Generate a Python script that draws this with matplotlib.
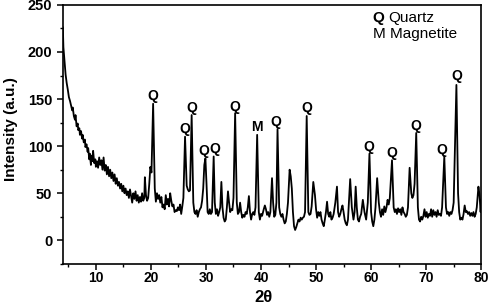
import matplotlib
matplotlib.use('Agg')
import matplotlib.pyplot as plt
from matplotlib.ticker import MultipleLocator

plt.rcParams['font.family'] = ['Liberation Sans', 'DejaVu Sans']

# XRD pattern (2-theta, intensity)
two_theta = [
    4.0, 4.1, 4.3, 4.5, 4.7, 4.9, 5.1, 5.3, 5.5, 5.7, 5.8, 6.0, 6.2, 6.3, 6.5, 6.7, 6.8, 7.0, 7.1, 7.3,
    7.5, 7.6, 7.8, 8.0, 8.1, 8.3, 8.5, 8.6, 8.8, 8.9, 9.1, 9.2, 9.4, 9.5, 9.7, 9.9, 10.0, 10.2, 10.4, 10.6,
    10.8, 11.0, 11.2, 11.4, 11.6, 11.8, 12.0, 12.2, 12.4, 12.6, 12.8, 13.0, 13.2, 13.4, 13.6, 13.8, 14.0, 14.2, 14.4, 14.6,
    14.8, 15.0, 15.2, 15.4, 15.6, 15.8, 16.0, 16.2, 16.4, 16.6, 16.8, 17.0, 17.2, 17.4, 17.6, 17.8, 18.0, 18.2, 18.4, 18.6,
    18.8, 18.9, 19.1, 19.3, 19.5, 19.7, 19.9, 20.1, 20.4, 20.7, 20.9, 21.1, 21.3, 21.5, 21.7, 21.9, 22.1, 22.3, 22.5, 22.7,
    22.9, 23.1, 23.3, 23.5, 23.7, 23.9, 24.1, 24.3, 24.5, 24.7, 24.9, 25.1, 25.3, 25.5, 25.7, 25.9, 26.2, 26.5, 26.7, 26.9,
    27.1, 27.4, 27.7, 27.9, 28.1, 28.3, 28.5, 28.7, 28.9, 29.1, 29.3, 29.5, 29.7, 29.9, 30.1, 30.3, 30.5, 30.7, 30.9, 31.1,
    31.4, 31.6, 31.8, 32.0, 32.2, 32.4, 32.6, 32.8, 33.0, 33.2, 33.4, 33.6, 33.8, 34.0, 34.2, 34.4, 34.6, 34.8, 35.0, 35.3,
    35.6, 35.8, 36.0, 36.2, 36.4, 36.6, 36.8, 37.0, 37.2, 37.4, 37.6, 37.8, 38.0, 38.2, 38.4, 38.6, 38.8, 39.0, 39.3, 39.6,
    39.8, 40.0, 40.2, 40.5, 40.7, 40.9, 41.1, 41.3, 41.5, 41.7, 42.0, 42.2, 42.4, 42.6, 42.8, 43.0, 43.3, 43.5, 43.7, 43.9,
    44.1, 44.3, 44.5, 44.7, 44.9, 45.2, 45.4, 45.6, 45.8, 46.0, 46.2, 46.4, 46.6, 46.8, 47.0, 47.2, 47.4, 47.6, 47.8, 48.0,
    48.3, 48.6, 48.8, 49.0, 49.2, 49.5, 49.8, 50.0, 50.2, 50.4, 50.6, 50.8, 51.0, 51.2, 51.4, 51.6, 51.8, 52.0, 52.2, 52.4,
    52.6, 52.8, 53.0, 53.2, 53.5, 53.8, 54.0, 54.2, 54.4, 54.6, 54.8, 55.0, 55.2, 55.4, 55.6, 55.8, 56.2, 56.5, 56.8, 57.0,
    57.2, 57.4, 57.6, 57.8, 58.0, 58.2, 58.5, 58.8, 59.1, 59.4, 59.7, 60.0, 60.2, 60.4, 60.6, 60.8, 61.1, 61.4, 61.6, 61.8,
    62.0, 62.2, 62.4, 62.6, 62.8, 63.0, 63.2, 63.4, 63.8, 64.1, 64.3, 64.5, 64.7, 64.9, 65.1, 65.3, 65.5, 65.7, 65.9, 66.1,
    66.3, 66.5, 66.7, 67.0, 67.3, 67.5, 67.7, 67.9, 68.2, 68.5, 68.7, 68.9, 69.1, 69.3, 69.5, 69.7, 69.9, 70.1, 70.3, 70.5,
    70.7, 70.9, 71.1, 71.3, 71.5, 71.7, 71.9, 72.1, 72.3, 72.5, 72.7, 72.9, 73.3, 73.6, 73.8, 74.0, 74.2, 74.4, 74.6, 74.8,
    75.0, 75.5, 75.8, 76.0, 76.2, 76.4, 76.6, 76.8, 77.0, 77.2, 77.4, 77.6, 77.8, 78.0, 78.2, 78.4, 78.6, 78.8, 79.0, 79.2,
    79.5, 79.7, 79.9, 80.0,
]
intensity = [
    226, 205, 190, 176, 167, 160, 152, 148, 143, 138, 141, 132, 128, 133, 121, 124, 117, 119, 112, 116,
    108, 112, 104, 107, 99, 102, 94, 98, 86, 92, 80, 90, 84, 95, 82, 86, 78, 84, 77, 88,
    80, 85, 75, 88, 74, 80, 70, 78, 68, 75, 66, 72, 63, 70, 60, 66, 58, 62, 55, 60,
    52, 58, 50, 55, 48, 52, 45, 54, 47, 40, 50, 44, 52, 42, 48, 40, 46, 41, 50, 42,
    45, 67, 48, 42, 45, 60, 78, 72, 145, 55, 41, 50, 44, 48, 40, 46, 35, 38, 33, 48,
    38, 44, 36, 50, 42, 36, 38, 30, 32, 31, 35, 32, 38, 28, 36, 45, 110, 58, 54, 52,
    53, 133, 40, 30, 28, 32, 25, 30, 33, 35, 42, 55, 80, 87, 60, 30, 28, 33, 28, 30,
    89, 40, 28, 33, 26, 30, 35, 62, 35, 24, 20, 22, 35, 52, 40, 30, 33, 32, 45, 135,
    40, 28, 30, 40, 30, 24, 27, 25, 30, 28, 35, 47, 30, 22, 28, 30, 27, 35, 112, 30,
    22, 28, 26, 33, 37, 33, 27, 30, 25, 30, 66, 40, 25, 27, 40, 118, 35, 28, 25, 28,
    22, 18, 20, 28, 40, 75, 68, 55, 30, 15, 11, 14, 18, 22, 20, 24, 22, 24, 25, 30,
    132, 30, 27, 28, 36, 62, 48, 33, 24, 30, 26, 30, 22, 18, 15, 22, 30, 41, 28, 25,
    30, 22, 24, 28, 40, 57, 30, 25, 28, 33, 37, 30, 22, 18, 16, 22, 65, 35, 22, 30,
    57, 35, 22, 20, 25, 28, 43, 30, 22, 40, 92, 30, 20, 15, 22, 35, 66, 40, 30, 25,
    33, 27, 36, 30, 35, 43, 38, 45, 85, 35, 30, 33, 28, 34, 30, 33, 27, 35, 30, 28,
    25, 27, 35, 77, 50, 45, 48, 60, 114, 35, 22, 20, 25, 22, 26, 33, 25, 30, 24, 28,
    26, 33, 25, 32, 27, 30, 25, 32, 27, 28, 26, 35, 89, 35, 28, 30, 26, 30, 28, 32,
    40, 165, 50, 30, 22, 24, 22, 28, 37, 30, 31, 28, 30, 26, 29, 26, 30, 25, 28, 35,
    57, 48, 30, 43,
]

# phase labels above the peaks
label_text = ['Q', 'Q', 'Q', 'Q', 'Q', 'Q', 'M', 'Q', 'Q', 'Q', 'Q', 'Q', 'Q', 'Q']
label_x = [20.4, 26.1, 27.5, 29.6, 31.6, 35.3, 39.3, 42.7, 48.4, 59.5, 63.8, 68.2, 72.9, 75.6]
label_y = [153, 118, 141, 95, 97, 142, 120, 126, 140, 99, 93, 121, 96, 174]

fig = plt.figure(figsize=(4.91, 3.04), dpi=100)
ax = fig.add_axes([0.128, 0.132, 0.852, 0.852])

ax.plot(two_theta, intensity, color='black', lw=1.3)

for t, x, y in zip(label_text, label_x, label_y):
    ax.text(x, y, t, ha='center', va='center', fontsize=10, fontweight='bold')

# legend text
ax.text(60.3, 236, 'Q', ha='left', va='center', fontsize=11, fontweight='bold')
ax.text(63.1, 236, 'Quartz', ha='left', va='center', fontsize=11)
ax.text(60.3, 219, 'M Magnetite', ha='left', va='center', fontsize=11)

ax.set_xlim(4, 80)
ax.set_ylim(-25, 250)
ax.xaxis.set_major_locator(MultipleLocator(10))
ax.xaxis.set_minor_locator(MultipleLocator(5))
ax.yaxis.set_major_locator(MultipleLocator(50))
ax.yaxis.set_minor_locator(MultipleLocator(25))
ax.tick_params(which='major', direction='out', length=4, width=1.1, labelsize=10.5)
ax.tick_params(axis='x', which='major', pad=1, labelsize=10)
ax.tick_params(which='minor', direction='out', length=2.5, width=1.0)
for lab in ax.get_xticklabels() + ax.get_yticklabels():
    lab.set_fontweight('bold')
for sp in ax.spines.values():
    sp.set_linewidth(1.2)

ax.set_xlabel('2θ', fontsize=12, fontweight='bold', va='center')
ax.xaxis.set_label_coords(0.48, -0.13)
ax.set_ylabel('Intensity (a.u.)', fontsize=11, fontweight='bold', va='center')
ax.yaxis.set_label_coords(-0.125, 0.52)

plt.savefig('out.png', dpi=100)
plt.close()
